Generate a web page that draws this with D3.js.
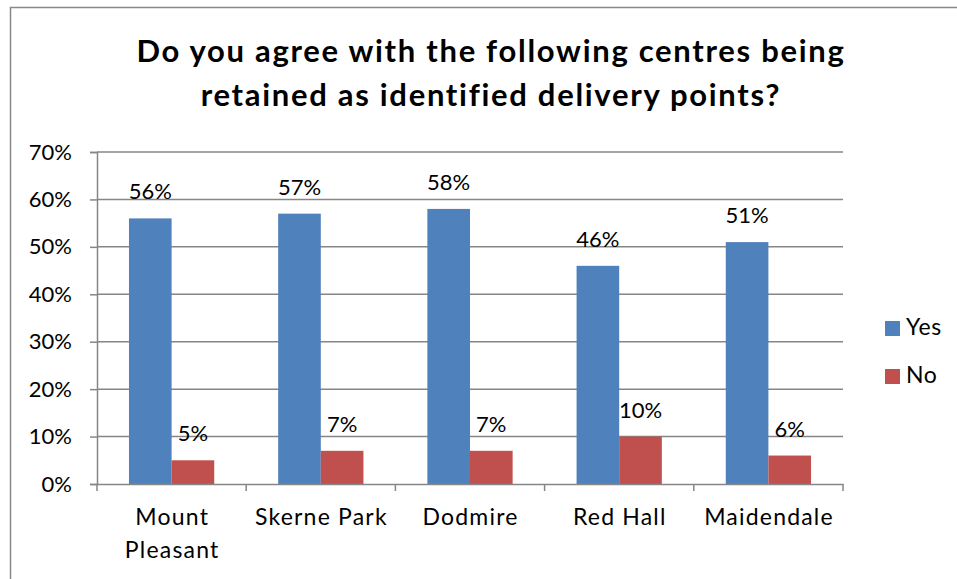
<!DOCTYPE html>
<html>
<head>
<meta charset="utf-8">
<script src="https://cdnjs.cloudflare.com/ajax/libs/d3/7.8.5/d3.min.js"></script>
<style>
  body { margin: 0; background: #fff; }
  text { font-family: Lato, "Open Sans", sans-serif; fill: #000; }
</style>
</head>
<body>
<div id="main"></div>
<script>
// chart data
var categories = [["Mount", "Pleasant"], ["Skerne Park"], ["Dodmire"], ["Red Hall"], ["Maidendale"]];
var series = ["Yes", "No"];
var yesValues = [56, 57, 58, 46, 51];
var noValues = [5, 7, 7, 10, 6];
var yTicks = [0, 10, 20, 30, 40, 50, 60, 70];
var titleLines = ["Do you agree with the following centres being", "retained as identified delivery points?"];

var colors = ["#4F81BD", "#C0504D"];

var W = 957, H = 579;
var margin = {top: 152, left: 97, right: 114, bottom: 95};
var width = W - margin.left - margin.right,   // 746
    height = H - margin.top - margin.bottom;  // 332

var svg = d3.select("#main").append("svg")
    .attr("width", W)
    .attr("height", H);

// outer border of the chart area
svg.append("rect")
    .attr("x", 10.5).attr("y", 7.5)
    .attr("width", W).attr("height", H)
    .attr("fill", "none")
    .attr("stroke", "#888")
    .attr("stroke-width", 1.5);

// title
svg.selectAll(".title")
    .data(titleLines)
    .enter().append("text")
    .attr("class", "title")
    .attr("x", 491)
    .attr("y", function(d, i) { return 62 + i * 44; })
    .attr("text-anchor", "middle")
    .style("font-size", "31px")
    .style("font-weight", "bold")
    .style("letter-spacing", "1.7px")
    .text(function(d) { return d; });

var g = svg.append("g")
    .attr("transform", "translate(" + margin.left + "," + margin.top + ")");

var names = categories.map(function(d) { return d.join(" "); });

var xScale = d3.scaleBand()
    .domain(names)
    .range([0, width]);

var barW = xScale.bandwidth() / 3.5;
var xSub = d3.scaleBand()
    .domain(series)
    .range([barW * 0.75, barW * 2.75]);

var yScale = d3.scaleLinear()
    .domain([0, 70])
    .range([height, 0]);

// gridlines + y axis
var yAxis = d3.axisLeft(yScale)
    .tickValues(yTicks)
    .tickSize(7)
    .tickFormat(function(d) { return d + "%"; });

var yg = g.append("g").attr("class", "y axis").call(yAxis);
yg.select(".domain").attr("stroke", "#868686").attr("stroke-width", 1.5);
yg.selectAll(".tick line").attr("stroke", "#868686").attr("stroke-width", 1.5);
yg.selectAll(".tick text")
    .attr("x", -25)
    .attr("dy", "0.32em")
    .style("font-size", "22px")
    .style("font-family", "Lato, sans-serif");

g.append("g").attr("class", "grid")
    .selectAll("line")
    .data(yTicks.filter(function(d) { return d > 0; }))
    .enter().append("line")
    .attr("x1", 0).attr("x2", width)
    .attr("y1", function(d) { return yScale(d); })
    .attr("y2", function(d) { return yScale(d); })
    .attr("stroke", "#868686")
    .attr("stroke-width", 1.5);

// bars
var rows = names.map(function(n, i) {
  return {name: n, values: [
    {key: "Yes", v: yesValues[i]},
    {key: "No", v: noValues[i]}
  ]};
});

var groups = g.selectAll(".cat")
    .data(rows)
    .enter().append("g")
    .attr("class", "cat")
    .attr("transform", function(d) { return "translate(" + xScale(d.name) + ",0)"; });

groups.selectAll("rect")
    .data(function(d) { return d.values; })
    .enter().append("rect")
    .attr("x", function(d) { return xSub(d.key); })
    .attr("width", xSub.bandwidth())
    .attr("y", function(d) { return yScale(d.v); })
    .attr("height", function(d) { return height - yScale(d.v); })
    .attr("fill", function(d, i) { return colors[i]; });

groups.selectAll(".lbl")
    .data(function(d) { return d.values; })
    .enter().append("text")
    .attr("class", "lbl")
    .attr("x", function(d) { return xSub(d.key) + xSub.bandwidth() / 2; })
    .attr("y", function(d) { return yScale(d.v) - 19; })
    .attr("text-anchor", "middle")
    .style("font-size", "22px")
    .text(function(d) { return d.v + "%"; });

// x axis
var xAxis = d3.axisBottom(xScale).tickSize(0).tickFormat("");
var xg = g.append("g")
    .attr("class", "x axis")
    .attr("transform", "translate(0," + height + ")")
    .call(xAxis);
xg.select(".domain").attr("stroke", "#868686").attr("stroke-width", 1.5);

xg.selectAll(".sep")
    .data(d3.range(names.length + 1))
    .enter().append("line")
    .attr("x1", function(i) { return i * xScale.step(); })
    .attr("x2", function(i) { return i * xScale.step(); })
    .attr("y1", 0).attr("y2", 7)
    .attr("stroke", "#868686")
    .attr("stroke-width", 1.5);

categories.forEach(function(lines, i) {
  var cx = xScale(names[i]) + xScale.bandwidth() / 2 + 0.6;
  xg.append("text")
    .attr("x", cx)
    .attr("y", 41)
    .attr("text-anchor", "middle")
    .style("font-size", "23px")
    .style("letter-spacing", "1.2px")
    .selectAll("tspan")
    .data(lines)
    .enter().append("tspan")
    .attr("x", cx)
    .attr("dy", function(d, j) { return j === 0 ? 0 : 33; })
    .text(function(d) { return d; });
});

// legend
var legend = svg.selectAll(".legend")
    .data(series)
    .enter().append("g")
    .attr("class", "legend")
    .attr("transform", function(d, i) { return "translate(885," + (321 + i * 48) + ")"; });

legend.append("rect")
    .attr("width", 15)
    .attr("height", 15)
    .attr("fill", function(d, i) { return colors[i]; });

legend.append("text")
    .attr("x", 21)
    .attr("y", 14)
    .style("font-size", "23px")
    .style("letter-spacing", "0.6px")
    .text(function(d) { return d; });
</script>
</body>
</html>
